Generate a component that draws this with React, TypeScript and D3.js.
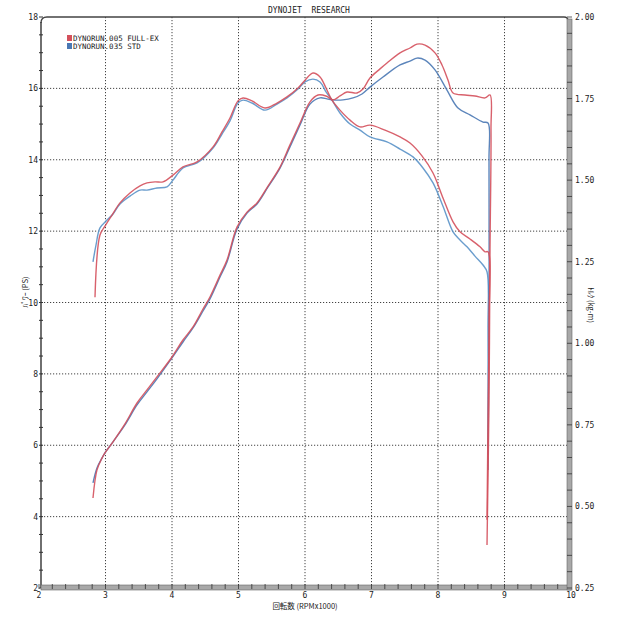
import React, { useRef, useEffect } from "react";
import * as d3 from "d3";

// rpm x1000
const redPowerRpm = [2.842, 2.917, 2.992, 3.098, 3.218, 3.368, 3.519, 3.624, 3.744, 3.865, 4.015, 4.165, 4.376, 4.617, 4.752, 4.872, 4.992, 5.068, 5.203, 5.398, 5.579, 5.729, 5.895, 6.0, 6.12, 6.226, 6.316, 6.406, 6.526, 6.677, 6.827, 6.977, 7.203, 7.429, 7.579, 7.759, 7.925, 8.075, 8.226, 8.331, 8.481, 8.632, 8.707, 8.752, 8.767, 8.752, 8.737];
const redPowerPs = [10.15, 11.89, 12.14, 12.45, 12.79, 13.07, 13.27, 13.35, 13.38, 13.38, 13.57, 13.8, 13.94, 14.36, 14.78, 15.17, 15.65, 15.73, 15.65, 15.45, 15.59, 15.76, 16.01, 16.23, 16.43, 16.32, 16.01, 15.67, 15.39, 15.11, 14.92, 14.97, 14.83, 14.64, 14.47, 14.11, 13.63, 12.93, 12.26, 11.98, 11.78, 11.56, 11.42, 11.42, 9.51, 6.71, 3.91];

const bluePowerRpm = [2.812, 2.857, 2.917, 3.023, 3.113, 3.218, 3.368, 3.519, 3.624, 3.774, 3.925, 4.015, 4.165, 4.376, 4.617, 4.752, 4.872, 4.992, 5.068, 5.203, 5.398, 5.579, 5.729, 5.895, 6.0, 6.12, 6.226, 6.316, 6.406, 6.526, 6.677, 6.827, 6.977, 7.233, 7.429, 7.624, 7.774, 7.925, 8.075, 8.226, 8.331, 8.436, 8.556, 8.677, 8.737, 8.752, 8.752];
const bluePowerPs = [11.14, 11.61, 12.09, 12.31, 12.48, 12.76, 12.98, 13.15, 13.15, 13.21, 13.24, 13.43, 13.77, 13.91, 14.33, 14.72, 15.09, 15.59, 15.67, 15.59, 15.39, 15.56, 15.73, 15.98, 16.18, 16.26, 16.18, 15.9, 15.67, 15.31, 15.0, 14.83, 14.64, 14.5, 14.3, 14.08, 13.77, 13.35, 12.7, 11.98, 11.75, 11.56, 11.3, 11.05, 10.86, 9.23, 5.73];

const redTorqueRpm = [2.812, 2.872, 2.947, 2.992, 3.113, 3.293, 3.474, 3.624, 3.774, 4.0, 4.165, 4.316, 4.466, 4.571, 4.722, 4.827, 4.977, 5.128, 5.278, 5.444, 5.624, 5.774, 5.925, 6.075, 6.195, 6.316, 6.421, 6.526, 6.632, 6.782, 6.872, 6.977, 7.128, 7.233, 7.429, 7.579, 7.684, 7.805, 7.955, 8.06, 8.15, 8.226, 8.406, 8.556, 8.707, 8.782, 8.797, 8.782, 8.767, 8.737];
const redTorqueKgm = [0.526, 0.612, 0.648, 0.664, 0.698, 0.753, 0.817, 0.857, 0.897, 0.958, 1.01, 1.05, 1.105, 1.142, 1.209, 1.255, 1.356, 1.402, 1.43, 1.482, 1.54, 1.608, 1.675, 1.74, 1.761, 1.758, 1.746, 1.758, 1.77, 1.767, 1.779, 1.813, 1.841, 1.859, 1.89, 1.905, 1.917, 1.914, 1.89, 1.853, 1.807, 1.767, 1.761, 1.758, 1.752, 1.761, 1.654, 1.286, 0.826, 0.382];

const blueTorqueRpm = [2.812, 2.872, 2.947, 2.992, 3.113, 3.293, 3.474, 3.624, 3.774, 4.0, 4.165, 4.316, 4.466, 4.571, 4.722, 4.827, 4.977, 5.128, 5.278, 5.444, 5.624, 5.774, 5.925, 6.075, 6.226, 6.331, 6.421, 6.571, 6.722, 6.857, 6.977, 7.173, 7.429, 7.579, 7.684, 7.805, 7.955, 8.135, 8.301, 8.481, 8.677, 8.752, 8.767, 8.767, 8.752];
const blueTorqueKgm = [0.572, 0.618, 0.648, 0.664, 0.698, 0.75, 0.811, 0.851, 0.891, 0.955, 1.004, 1.047, 1.099, 1.136, 1.203, 1.249, 1.35, 1.399, 1.427, 1.479, 1.537, 1.602, 1.669, 1.733, 1.752, 1.749, 1.746, 1.746, 1.752, 1.764, 1.785, 1.816, 1.853, 1.865, 1.874, 1.868, 1.838, 1.776, 1.721, 1.7, 1.678, 1.675, 1.562, 1.133, 0.612];

const xTicks = [2, 3, 4, 5, 6, 7, 8, 9, 10];
const leftTicks = [2, 4, 6, 8, 10, 12, 14, 16, 18];
const rightTicks = [0.25, 0.5, 0.75, 1.0, 1.25, 1.5, 1.75, 2.0];

const legendNames = ["DYNORUN.005 FULL-EX", "DYNORUN.035 STD"];
const RED = "#d4505c";
const BLUE = "#4a78b4";
const BLUE_LIGHT = "#5a92c8";
const FONT = "'DejaVu Sans Mono', monospace";

function drawChart(svgEl: SVGSVGElement) {
  const svg = d3.select(svgEl);
  svg.selectAll("*").remove();

  const x = d3.scaleLinear().domain([2, 10]).range([39, 571]);
  const yL = d3.scaleLinear().domain([2, 18]).range([588, 17]);
  const yR = d3.scaleLinear().domain([0.25, 2.0]).range([588, 17]);

  const left = 41;
  const right = 568;
  const top = 17;
  const bottom = 588;

  // dotted grid
  const grid = svg.append("g").attr("stroke", "#444").attr("stroke-width", 1).attr("stroke-dasharray", "1.2,1.8");
  grid
    .selectAll("line.v")
    .data(xTicks.filter((d) => d > 2 && d < 10))
    .enter()
    .append("line")
    .attr("x1", (d) => x(d))
    .attr("x2", (d) => x(d))
    .attr("y1", top)
    .attr("y2", bottom);
  grid
    .selectAll("line.h")
    .data(leftTicks.filter((d) => d > 2 && d < 18))
    .enter()
    .append("line")
    .attr("x1", left)
    .attr("x2", right)
    .attr("y1", (d) => yL(d))
    .attr("y2", (d) => yL(d));

  // top border
  svg
    .append("path")
    .attr("d", `M${left},${top + 6} Q${left},${top} ${left + 6},${top} L${right - 4},${top} Q${right},${top} ${right},${top + 4}`)
    .attr("fill", "none")
    .attr("stroke", "#444")
    .attr("stroke-width", 1.3);

  // left axis
  svg.append("line").attr("x1", left).attr("x2", left).attr("y1", top + 5).attr("y2", bottom).attr("stroke", "#333").attr("stroke-width", 1.4);
  svg
    .append("g")
    .selectAll("line")
    .data(d3.range(2, 18.01, 0.5))
    .enter()
    .append("line")
    .attr("x1", left - 2)
    .attr("x2", left + 2)
    .attr("y1", (d) => yL(d))
    .attr("y2", (d) => yL(d))
    .attr("stroke", "#333");

  // bottom axis band
  svg.append("rect").attr("x", left).attr("y", bottom - 3).attr("width", right - left + 3).attr("height", 5).attr("fill", "#a8a8a8").attr("stroke", "#666").attr("stroke-width", 0.6);
  svg
    .append("g")
    .selectAll("line")
    .data(d3.range(2, 10.01, 0.2))
    .enter()
    .append("line")
    .attr("x1", (d) => x(d))
    .attr("x2", (d) => x(d))
    .attr("y1", bottom - 4)
    .attr("y2", bottom + 1)
    .attr("stroke", "#333")
    .attr("stroke-width", 0.8);

  // right axis band
  svg.append("rect").attr("x", right - 1).attr("y", top + 2).attr("width", 5).attr("height", bottom - top).attr("fill", "#a8a8a8").attr("stroke", "#666").attr("stroke-width", 0.6);
  svg
    .append("g")
    .selectAll("line")
    .data(d3.range(0.25, 2.001, 0.05))
    .enter()
    .append("line")
    .attr("x1", right - 1)
    .attr("x2", right + 4)
    .attr("y1", (d) => yR(d))
    .attr("y2", (d) => yR(d))
    .attr("stroke", "#333")
    .attr("stroke-width", 0.8);

  // tick labels
  const txt = svg.append("g").attr("font-family", FONT).attr("font-size", 8).attr("fill", "#222");
  txt
    .selectAll("text.l")
    .data(leftTicks)
    .enter()
    .append("text")
    .attr("x", left - 3)
    .attr("y", (d) => yL(d) + 3)
    .attr("text-anchor", "end")
    .text((d) => d);
  txt
    .selectAll("text.b")
    .data(xTicks)
    .enter()
    .append("text")
    .attr("x", (d) => x(d))
    .attr("y", bottom + 9.5)
    .attr("text-anchor", "middle")
    .text((d) => d);
  txt
    .selectAll("text.r")
    .data(rightTicks)
    .enter()
    .append("text")
    .attr("x", right + 7)
    .attr("y", (d) => yR(d) + 3)
    .text((d) => d3.format(".2f")(d));

  // titles
  txt.append("text").attr("x", 309).attr("y", 13).attr("text-anchor", "middle").attr("xml:space", "preserve").text("DYNOJET  RESEARCH");
  svg
    .append("text")
    .attr("x", 305)
    .attr("y", 609)
    .attr("text-anchor", "middle")
    .attr("font-family", "'Noto Sans CJK JP', sans-serif")
    .attr("font-size", 7.5)
    .attr("fill", "#222")
    .text("回転数 (RPMx1000)");
  svg
    .append("text")
    .attr("transform", "translate(28,292) rotate(-90)")
    .attr("text-anchor", "middle")
    .attr("font-family", "'Noto Sans CJK JP', sans-serif")
    .attr("font-size", 7.5)
    .attr("fill", "#222")
    .text("ﾊﾟﾜｰ (PS)");
  svg
    .append("text")
    .attr("transform", "translate(588,305) rotate(90)")
    .attr("text-anchor", "middle")
    .attr("font-family", "'Noto Sans CJK JP', sans-serif")
    .attr("font-size", 7.5)
    .attr("fill", "#222")
    .text("ﾄﾙｸ (kg-m)");

  // legend
  const legend = svg.append("g").attr("font-family", FONT).attr("font-size", 7.5).attr("fill", "#222");
  [RED, BLUE].forEach((c, i) => {
    legend.append("rect").attr("x", 67).attr("y", 35 + i * 8).attr("width", 5).attr("height", 6).attr("fill", c);
    legend.append("text").attr("x", 73).attr("y", 41 + i * 8).text(legendNames[i]);
  });

  // curves
  const line = d3
    .line<[number, number]>()
    .x((d) => d[0])
    .y((d) => d[1])
    .curve(d3.curveCatmullRom.alpha(0.5));

  const series = [
    { rpm: bluePowerRpm, val: bluePowerPs, y: yL, color: BLUE_LIGHT },
    { rpm: blueTorqueRpm, val: blueTorqueKgm, y: yR, color: BLUE },
    { rpm: redPowerRpm, val: redPowerPs, y: yL, color: RED },
    { rpm: redTorqueRpm, val: redTorqueKgm, y: yR, color: RED },
  ];
  series.forEach((s) => {
    const pts: [number, number][] = s.rpm.map((r, i) => [x(r), s.y(s.val[i])]);
    svg
      .append("path")
      .attr("d", line(pts))
      .attr("fill", "none")
      .attr("stroke", s.color)
      .attr("stroke-width", 1.4)
      .attr("stroke-linejoin", "round")
      .attr("opacity", 0.9);
  });
}

const App: React.FunctionComponent = function () {
  const svgRef = useRef<SVGSVGElement>(null);

  useEffect(() => {
    if (svgRef.current == null) {
      return;
    }
    drawChart(svgRef.current);
  }, []);

  return (
    <svg
      ref={svgRef}
      width={618}
      height={618}
      style={{ position: "absolute", left: 0, top: 0, background: "#fff" }}
    ></svg>
  );
};

export default App;
